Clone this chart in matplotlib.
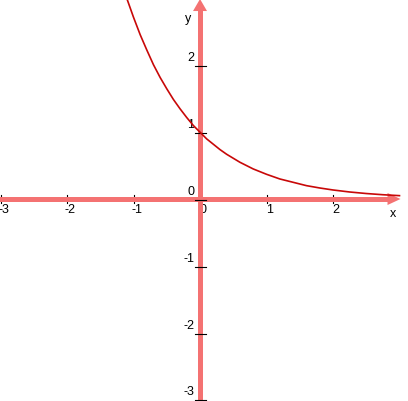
import numpy as np
import matplotlib.pyplot as plt
from matplotlib.patches import Polygon

# curve values
curve_x = [-1.1, -1.0, -0.9, -0.8, -0.7, -0.6, -0.5, -0.4, -0.3, -0.2, -0.1,
           0.0, 0.1, 0.2, 0.3, 0.4, 0.5, 0.6, 0.7, 0.8, 0.9, 1.0,
           1.2, 1.4, 1.6, 1.8, 2.0, 2.25, 2.5, 2.75, 3.0]
curve_y = [3.0, 2.72, 2.46, 2.23, 2.01, 1.82, 1.65, 1.49, 1.35, 1.22, 1.1,
           1.0, 0.9, 0.82, 0.74, 0.67, 0.61, 0.55, 0.5, 0.45, 0.41, 0.37,
           0.3, 0.25, 0.2, 0.165, 0.135, 0.105, 0.082, 0.064, 0.05]

xticks = [-3, -2, -1, 0, 1, 2]
yticks = [-3, -2, -1, 0, 1, 2]
xlabels = ['-3', '-2', '-1', '0', '1', '2']
ylabels = ['-3', '-2', '-1', '0', '1', '2']

axis_col = '#f47272'
curve_col = '#c80808'
font = 'Liberation Sans'
fs = 9

fig = plt.figure(figsize=(4.08, 4.02), dpi=100)
ax = fig.add_axes([0, 0, 1, 1])
ax.set_xlim(-3.008, 3.128)
ax.set_ylim(-3.024, 2.994)
ax.axis('off')

px = 1 / 66.6  # one pixel in data units

# x tick labels (below, under the axes)
for t, lab in zip(xticks, xlabels):
    ax.text(t + 3 * px, -4 * px, lab, ha='center', va='top', fontsize=fs,
            family=font, color='k', zorder=0)

# x ticks, under the x axis line
for t in xticks:
    ax.plot([t, t], [-4 * px, 4 * px], color='k', lw=0.8, zorder=1)

# axis lines with arrow heads
ax.plot([-3.1, 3.0 - 10 * px], [0, 0], color=axis_col, lw=3.6,
        solid_capstyle='butt', zorder=2)
ax.add_patch(Polygon([[3.0 - 12 * px, 6 * px], [3.0 + 1 * px, 0],
                      [3.0 - 12 * px, -6 * px]], closed=True,
                     color=axis_col, lw=0, zorder=2))
ax.plot([0, 0], [-3.1, 2.994 - 10 * px], color=axis_col, lw=3.6,
        solid_capstyle='butt', zorder=3)
ax.add_patch(Polygon([[-7 * px, 2.994 - 12 * px], [0, 2.994],
                      [7 * px, 2.994 - 12 * px]], closed=True,
                     color=axis_col, lw=0, zorder=3))

# y ticks on top of the y axis
for t in yticks:
    ax.plot([-5 * px, 6 * px], [t - 1 * px, t - 1 * px], color='k', lw=0.8,
            zorder=4)
for t, lab in zip(yticks, ylabels):
    ax.text(-6 * px, t + 2 * px, lab, ha='right', va='bottom', fontsize=fs,
            family=font, color='k', zorder=4)

ax.text(394 * px - 3.008, -8 * px, 'x', ha='center', va='top', fontsize=fs,
        family=font, color='k')
ax.text(-12 * px, 2.994 - 19 * px, 'y', ha='center', va='center',
        fontsize=fs, family=font, color='k')

ax.plot(curve_x, curve_y, color=curve_col, lw=1.2, zorder=5)

fig.savefig('out.png', dpi=100)
